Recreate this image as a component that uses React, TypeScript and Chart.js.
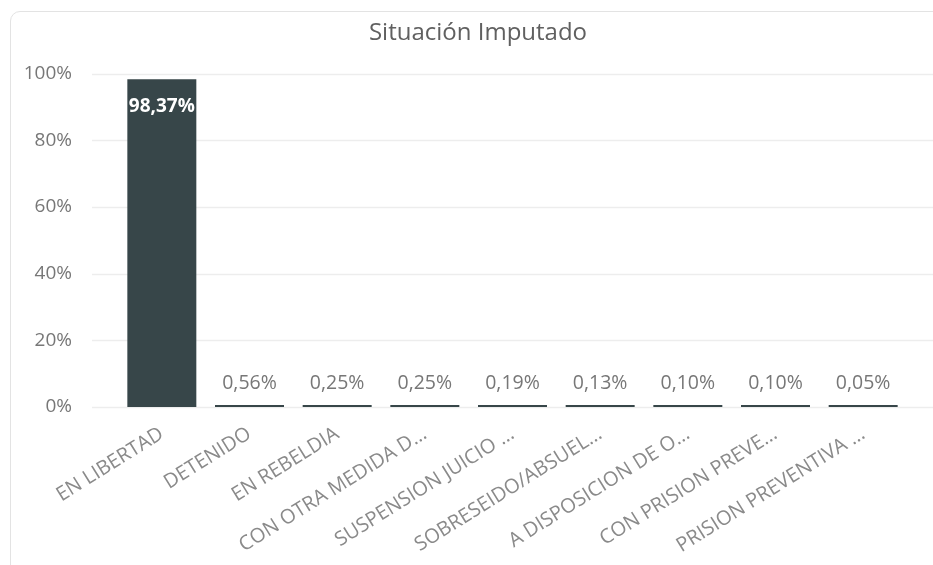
import React, { useEffect, useRef } from "react";
import { Chart, registerables } from "chart.js";

Chart.register(...registerables);

const categories = [
  "EN LIBERTAD",
  "DETENIDO",
  "EN REBELDIA",
  "CON OTRA MEDIDA D…",
  "SUSPENSION JUICIO …",
  "SOBRESEIDO/ABSUEL…",
  "A DISPOSICION DE O…",
  "CON PRISION PREVE…",
  "PRISION PREVENTIVA …",
];
const values = [98.37, 0.56, 0.25, 0.25, 0.19, 0.13, 0.1, 0.1, 0.05];
const yTicks = [0, 20, 40, 60, 80, 100];
const title = "Situación Imputado";

const FONT = "'Open Sans', 'Noto Sans', sans-serif";

const gridPlugin = {
  id: "customGrid",
  beforeDatasetsDraw(chart: any) {
    const { ctx } = chart;
    const y = chart.scales.y;
    ctx.save();
    ctx.strokeStyle = "#ededed";
    ctx.lineWidth = 1.5;
    yTicks.forEach((t) => {
      const py = Math.round(y.getPixelForValue(t)) + 0.5;
      ctx.beginPath();
      ctx.moveTo(82, py);
      ctx.lineTo(chart.width, py);
      ctx.stroke();
    });
    ctx.restore();
  },
};

const labelPlugin = {
  id: "valueLabels",
  afterDatasetsDraw(chart: any) {
    const { ctx } = chart;
    const meta = chart.getDatasetMeta(0);
    ctx.save();
    ctx.textAlign = "center";
    ctx.textBaseline = "middle";
    meta.data.forEach((bar: any, i: number) => {
      const v = values[i];
      const txt = v.toFixed(2).replace(".", ",") + "%";
      if (v > 50) {
        ctx.font = `bold 19px ${FONT}`;
        ctx.fillStyle = "#ffffff";
        ctx.fillText(txt, bar.x, bar.y + 27);
      } else {
        ctx.font = `19.5px ${FONT}`;
        ctx.fillStyle = "#777777";
        ctx.fillText(txt, bar.x, bar.y - 22);
      }
    });
    ctx.restore();
  },
};

export default function App() {
  const ref = useRef<HTMLCanvasElement | null>(null);

  useEffect(() => {
    if (!ref.current) return;
    const chart = new Chart(ref.current, {
      type: "bar",
      data: {
        labels: categories,
        datasets: [
          {
            data: values,
            backgroundColor: "#374649",
            barPercentage: 0.787,
            categoryPercentage: 1,
            minBarLength: 2,
          },
        ],
      },
      plugins: [gridPlugin, labelPlugin],
      options: {
        animation: false,
        responsive: false,
        devicePixelRatio: 1,
        layout: { padding: 0 },
        plugins: {
          legend: { display: false },
          tooltip: { enabled: false },
          title: {
            display: true,
            text: title,
            color: "#606060",
            font: { family: FONT, size: 24, weight: "normal" },
            padding: { top: 8, bottom: 26 },
          },
        },
        scales: {
          x: {
            grid: { display: false },
            border: { display: false },
            ticks: {
              color: "#8a8a8a",
              font: { family: FONT, size: 20 },
              minRotation: 32,
              maxRotation: 32,
              padding: 7,
              labelOffset: 0,
              autoSkip: false,
            },
            afterFit(scale: any) {
              scale.height = 158;
            },
          },
          y: {
            min: 0,
            max: 100,
            grid: { display: false },
            border: { display: false },
            ticks: {
              stepSize: 20,
              color: "#777777",
              font: { family: FONT, size: 19 },
              padding: 38,
              callback: (v: any) => v + "%",
            },
            afterFit(scale: any) {
              scale.width = 108;
            },
          },
          y2: {
            position: "right",
            display: true,
            grid: { display: false },
            border: { display: false },
            ticks: { display: false },
            afterFit(scale: any) {
              scale.width = 39;
            },
          },
        },
      },
    });
    return () => chart.destroy();
  }, []);

  return (
    <div
      style={{
        position: "fixed",
        left: 0,
        top: 0,
        width: 933,
        height: 565,
        overflow: "hidden",
        background: "#ffffff",
      }}
    >
      <div
        style={{
          position: "absolute",
          left: 10,
          top: 11,
          width: 980,
          height: 620,
          border: "1px solid #e3e3e3",
          borderRadius: 10,
          boxSizing: "border-box",
        }}
      />
      <canvas
        ref={ref}
        width={936}
        height={554}
        style={{ position: "absolute", left: 10, top: 11, width: 936, height: 554 }}
      />
    </div>
  );
}
